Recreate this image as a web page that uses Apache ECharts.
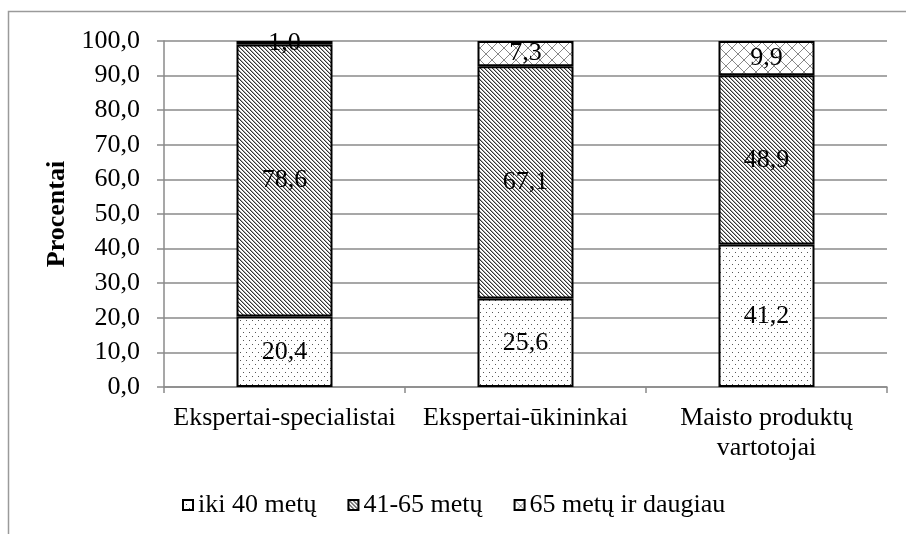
<!DOCTYPE html>
<html>
<head>
<meta charset="utf-8">
<script src="https://cdn.jsdelivr.net/npm/echarts@6/dist/echarts.min.js"></script>
<style>html,body{margin:0;padding:0;background:#fff}#c{width:906px;height:534px}</style>
</head>
<body>
<div id="c"></div>
<script>
const categories = ['Ekspertai-specialistai', 'Ekspertai-\u016Bkininkai', 'Maisto produkt\u0173\nvartotojai'];
const seriesNames = ['iki 40 met\u0173', '41-65 met\u0173', '65 met\u0173 ir daugiau'];
const valuesIki40 = [20.4, 25.6, 41.2];
const values41to65 = [78.6, 67.1, 48.9];
const values65plus = [1.0, 7.3, 9.9];
const axisName = 'Procentai';

function makeCanvas(w, h, draw) {
  const c = document.createElement('canvas');
  c.width = w; c.height = h;
  const ctx = c.getContext('2d');
  ctx.fillStyle = '#fff';
  ctx.fillRect(0, 0, w, h);
  draw(ctx, w, h);
  return c;
}
const dotPattern = makeCanvas(6, 8, function (ctx) {
  ctx.fillStyle = '#555';
  ctx.fillRect(0, 0, 1, 1);
  ctx.fillRect(3, 4, 1, 1);
});
const diagPattern = makeCanvas(4, 4, function (ctx) {
  for (let i = 0; i < 4; i++) {
    ctx.fillStyle = '#333';
    ctx.fillRect(i, i, 1, 1);
    ctx.fillStyle = '#aaa';
    ctx.fillRect((i + 1) % 4, i, 1, 1);
  }
});
const crossPattern = makeCanvas(12, 12, function (ctx) {
  ctx.strokeStyle = '#888';
  ctx.lineWidth = 1;
  ctx.beginPath();
  ctx.moveTo(0, 0); ctx.lineTo(12, 12);
  ctx.moveTo(12, 0); ctx.lineTo(0, 12);
  ctx.stroke();
});
const patterns = [dotPattern, diagPattern, crossPattern];
const seriesData = [valuesIki40, values41to65, values65plus];

const FONT = 'Liberation Serif';
const fmt = v => v.toFixed(1).replace('.', ',');

const chart = echarts.init(document.getElementById('c'), null, { renderer: 'canvas' });
chart.setOption({
  animation: false,
  backgroundColor: '#fff',
  textStyle: { fontFamily: FONT },
  grid: { left: 164, right: 19, top: 41, bottom: 147, containLabel: false },
  graphic: [{
    type: 'polyline',
    shape: { points: [[8.5, 534], [8.5, 11.5], [906, 11.5]] },
    style: { stroke: '#9a9a9a', lineWidth: 1.5, fill: null },
    silent: true
  }],
  legend: {
    left: 177,
    top: 487,
    itemWidth: 10,
    itemHeight: 10,
    itemGap: 31,
    icon: 'rect',
    textStyle: { fontFamily: FONT, fontSize: 26, color: '#000' },
    data: seriesNames
  },
  xAxis: {
    type: 'category',
    data: categories,
    axisLine: { lineStyle: { color: '#8a8a8a', width: 1.5 } },
    axisTick: { show: true, length: 6, lineStyle: { color: '#8a8a8a', width: 1.5 } },
    axisLabel: { fontFamily: FONT, fontSize: 26, color: '#000', margin: 16, lineHeight: 30, interval: 0 }
  },
  yAxis: {
    type: 'value',
    min: 0, max: 100, interval: 10,
    name: axisName,
    nameLocation: 'middle',
    nameGap: 86,
    nameTextStyle: { fontFamily: FONT, fontSize: 26, fontWeight: 'bold', color: '#000' },
    axisLine: { show: true, lineStyle: { color: '#8a8a8a', width: 1.5 } },
    axisTick: { show: true, length: 7, lineStyle: { color: '#8a8a8a', width: 1.5 } },
    splitLine: { lineStyle: { color: '#8a8a8a', width: 1.5 } },
    axisLabel: { fontFamily: FONT, fontSize: 26, color: '#000', margin: 24, formatter: fmt }
  },
  series: seriesNames.map((name, i) => ({
    name: name,
    type: 'bar',
    stack: 'total',
    barWidth: 96,
    data: seriesData[i],
    itemStyle: {
      color: { image: patterns[i], repeat: 'repeat' },
      borderColor: '#000',
      borderWidth: 2
    },
    label: {
      show: true,
      position: 'inside',
      fontFamily: FONT,
      fontSize: 26,
      color: '#000',
      formatter: p => fmt(p.value)
    }
  }))
});
</script>
</body>
</html>
